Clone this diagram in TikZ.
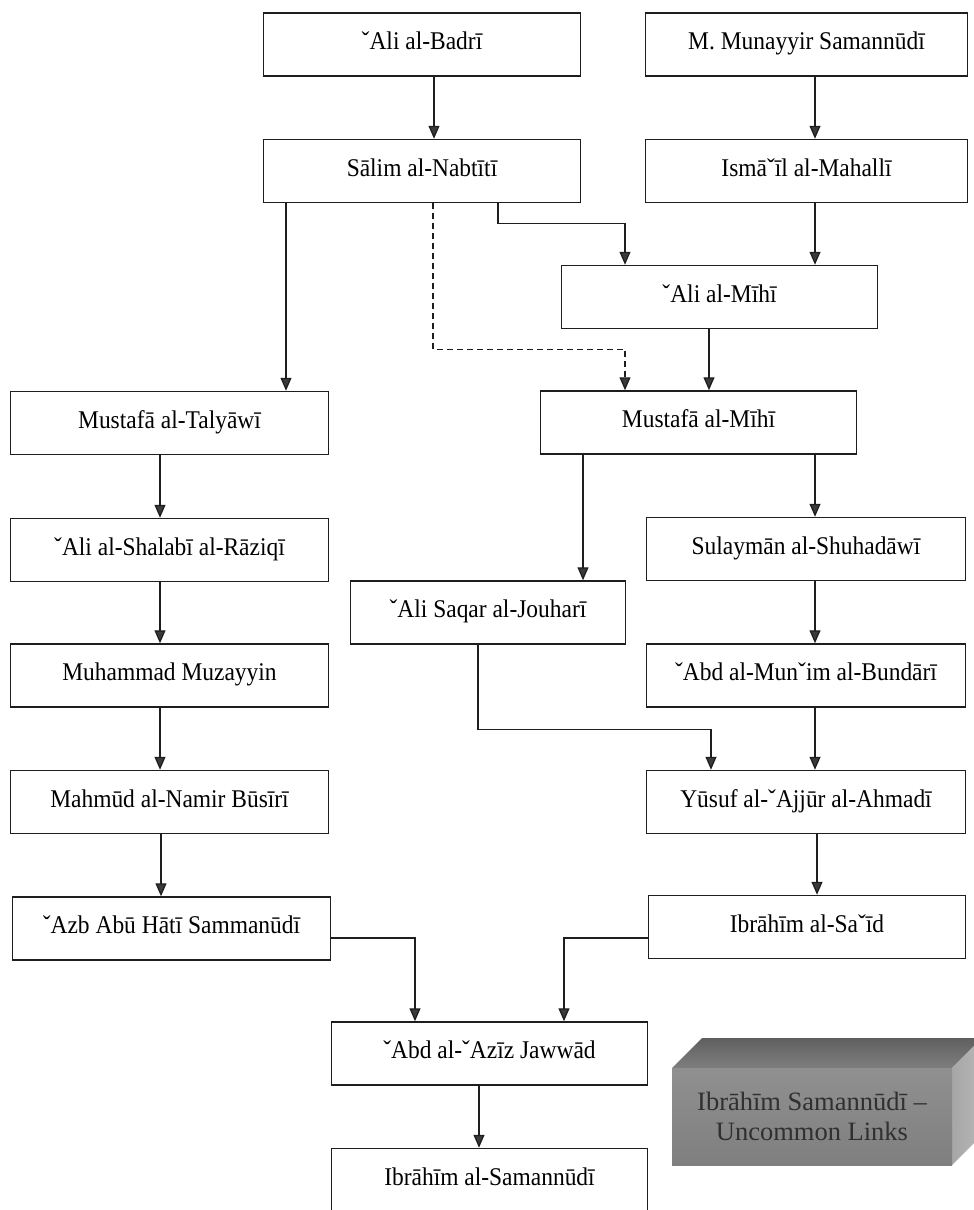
\documentclass[tikz,border=0pt]{standalone}
\usepackage{fontspec}
\setmainfont[FakeStretch=0.92]{Liberation Serif}
\newfontfamily\legendfont{Liberation Serif}
\usetikzlibrary{arrows.meta}

\definecolor{inkline}{HTML}{1E1E1E}
\definecolor{tipfill}{HTML}{3A3A3A}
\definecolor{legendfront}{HTML}{8A8A8A}
\definecolor{legendtop}{HTML}{707070}
\definecolor{legendside}{HTML}{A6A6A6}
\definecolor{legendtext}{HTML}{303030}

\begin{document}
\begin{tikzpicture}[x=1pt,y=-1pt,
  person/.style={draw=inkline, line width=1.5pt, fill=white,
    minimum height=63pt, inner sep=0pt,
    font=\fontsize{25.5}{30}\selectfont, text height=17pt, text depth=7pt},
  link/.style={draw=inkline, line width=1.3pt,
    -{Triangle[length=13pt,width=11pt,fill=tipfill]}},
  weaklink/.style={link, dash pattern=on 6pt off 4pt}
]
\useasboundingbox (0,0) rectangle (974,1210);
\clip (0,0) rectangle (974,1210);

% ---- teachers ----
\node[person, minimum width=317pt] (badri)     at (422,44.5)    {ˇAli al-Badrī};
\node[person, minimum width=322pt] (munayyir)  at (806.5,44.5)  {M. Munayyir Samannūdī};
\node[person, minimum width=317pt] (salim)     at (422,171)     {Sālim al-Nabtītī};
\node[person, minimum width=322pt] (ismail)    at (806.5,171)   {Ismāˇīl al-Mahallī};
\node[person, minimum width=316pt] (alimihi)   at (719.5,297)   {ˇAli al-Mīhī};
\node[person, minimum width=318pt] (talyawi)   at (169.5,423)   {Mustafā al-Talyāwī};
\node[person, minimum width=316pt] (mustmihi)  at (698.5,422.5) {Mustafā al-Mīhī};
\node[person, minimum width=318pt] (shalabi)   at (169.5,550)   {ˇAli al-Shalabī al-Rāziqī};
\node[person, minimum width=319pt] (sulayman)  at (806,549)     {Sulaymān al-Shuhadāwī};
\node[person, minimum width=275pt] (saqar)     at (488,612.5)   {ˇAli Saqar al-Jouharī};
\node[person, minimum width=318pt] (muzayyin)  at (169.5,675.5) {Muhammad Muzayyin};
\node[person, minimum width=319pt] (bundari)   at (806,675.5)   {ˇAbd al-Munˇim al-Bundārī};
\node[person, minimum width=318pt] (mahmud)    at (169.5,802)   {Mahmūd al-Namir Būsīrī};
\node[person, minimum width=319pt] (yusuf)     at (806,802)     {Yūsuf al-ˇAjjūr al-Ahmadī};
\node[person, minimum width=318pt] (azb)       at (171.5,928.5) {ˇAzb Abū Hātī Sammanūdī};
\node[person, minimum width=317pt] (said)      at (807,927)     {Ibrāhīm al-Saˇīd};
\node[person, minimum width=316pt] (jawwad)    at (489.5,1053.5){ˇAbd al-ˇAzīz Jawwād};
\node[person, minimum width=316pt] (samannudi) at (489.5,1180)  {Ibrāhīm al-Samannūdī};

% ---- links ----
\draw[link] ([xshift=12pt]badri.south) -- ([xshift=12pt]salim.north);
\draw[link] ([xshift=8.5pt]munayyir.south) -- ([xshift=8.5pt]ismail.north);
\draw[link] ([xshift=-136pt]salim.south) -- ([xshift=116.5pt]talyawi.north);
\draw[link] ([xshift=76pt]salim.south) -- ++(0,20) -| ([xshift=-94.5pt]alimihi.north);
\draw[weaklink] ([xshift=11pt]salim.south) -- ++(0,146) -| ([xshift=-73.5pt]mustmihi.north);
\draw[link] ([xshift=8.5pt]ismail.south) -- ([xshift=95.5pt]alimihi.north);
\draw[link] ([xshift=-10.5pt]alimihi.south) -- ([xshift=10.5pt]mustmihi.north);
\draw[link] ([xshift=-9.5pt]talyawi.south) -- ([xshift=-9.5pt]shalabi.north);
\draw[link] ([xshift=-115.5pt]mustmihi.south) -- ([xshift=95pt]saqar.north);
\draw[link] ([xshift=116.5pt]mustmihi.south) -- ([xshift=9pt]sulayman.north);
\draw[link] ([xshift=-9.5pt]shalabi.south) -- ([xshift=-9.5pt]muzayyin.north);
\draw[link] ([xshift=9pt]sulayman.south) -- ([xshift=9pt]bundari.north);
\draw[link] ([xshift=-9.5pt]muzayyin.south) -- ([xshift=-9.5pt]mahmud.north);
\draw[link] ([xshift=-10pt]saqar.south) -- ++(0,85) -| ([xshift=-95pt]yusuf.north);
\draw[link] ([xshift=9pt]bundari.south) -- ([xshift=9pt]yusuf.north);
\draw[link] ([xshift=-8.5pt]mahmud.south) -- ([xshift=-10.5pt]azb.north);
\draw[link] ([xshift=11pt]yusuf.south) -- ([xshift=10pt]said.north);
\draw[link] ([yshift=-9.5pt]azb.east) -| ([xshift=-74.5pt]jawwad.north);
\draw[link] ([yshift=-11pt]said.west) -| ([xshift=74.5pt]jawwad.north);
\draw[link] ([xshift=-10.5pt]jawwad.south) -- ([xshift=-10.5pt]samannudi.north);

% ---- legend block ----
\shade[top color=legendtop!85!black, bottom color=legendtop!90!white]
  (672,1068) -- (702,1038) -- (982,1038) -- (952,1068) -- cycle;
\shade[left color=legendside, right color=legendside!80!white]
  (952,1068) -- (982,1038) -- (982,1135) -- (952,1165) -- cycle;
\node[shade, top color=legendfront!95!white, bottom color=legendfront!92!black,
  minimum width=280pt, minimum height=97pt, inner sep=0pt, align=center,
  text=legendtext, font=\legendfont\fontsize{26.5}{30}\selectfont] (legend) at (812,1116.5)
  {Ibrāhīm Samannūdī –\\Uncommon Links};
\end{tikzpicture}
\end{document}
